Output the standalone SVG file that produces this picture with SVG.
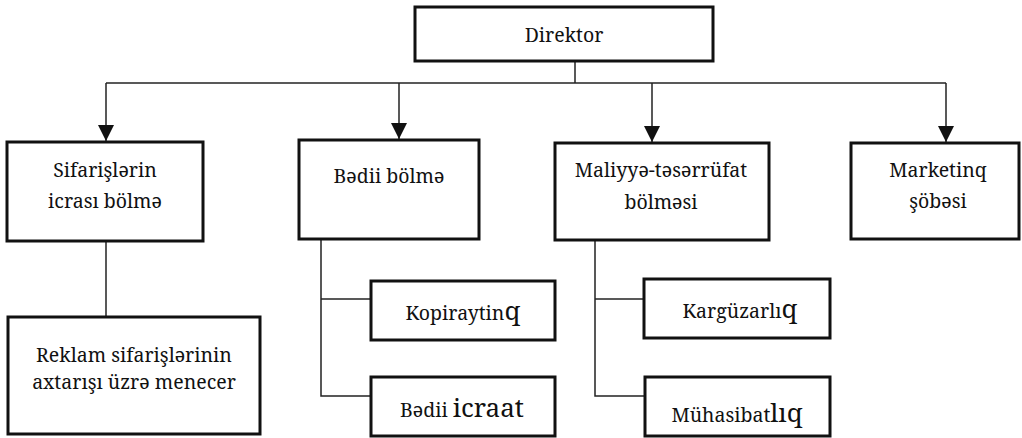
<svg xmlns="http://www.w3.org/2000/svg" width="1022" height="438" viewBox="0 0 1022 438">
  <style>
    .box { fill: #ffffff; stroke: #111111; stroke-width: 3; }
    .link { fill: none; stroke: #222222; stroke-width: 1.5; }
    .label { font-family: 'Noto Serif', 'DejaVu Serif', serif; font-size: 19.5px; fill: #111111; text-anchor: middle; }
    .big { font-size: 26px; }
  </style>
  <defs>
    <marker id="arrow" viewBox="0 0 16 16" refX="16" refY="8" markerWidth="16" markerHeight="16" markerUnits="userSpaceOnUse" orient="auto">
      <path d="M0,0 L16,8 L0,16 Z" fill="#111111"/>
    </marker>
  </defs>
  <rect width="1022" height="438" fill="#ffffff"/>

  <!-- connectors -->
  <g id="connectors">
    <path class="link" d="M575,61 V83"/>
    <path class="link" d="M106,83 H946"/>
    <path class="link" d="M106,83 V141" marker-end="url(#arrow)"/>
    <path class="link" d="M399,83 V139" marker-end="url(#arrow)"/>
    <path class="link" d="M652,83 V142" marker-end="url(#arrow)"/>
    <path class="link" d="M946,83 V142" marker-end="url(#arrow)"/>
    <path class="link" d="M106,241 V317"/>
    <path class="link" d="M321,239 V396 H371"/>
    <path class="link" d="M321,299 H371"/>
    <path class="link" d="M595,240 V396 H645"/>
    <path class="link" d="M595,299 H644"/>
  </g>

  <g id="direktor">
    <rect class="box" x="415" y="7" width="298" height="54"/>
    <text class="label" x="564" y="42">Direktor</text>
  </g>

  <g id="sifarisler">
    <rect class="box" x="7" y="142" width="196" height="99"/>
    <text class="label" x="105" y="177">Sifarişlərin</text>
    <text class="label" x="105" y="208">icrası bölmə</text>
  </g>

  <g id="bedii-bolme">
    <rect class="box" x="299" y="140" width="180" height="99"/>
    <text class="label" x="389" y="183">Bədii bölmə</text>
  </g>

  <g id="maliyye">
    <rect class="box" x="555" y="143" width="214" height="97"/>
    <text class="label" x="661" y="177">Maliyyə-təsərrüfat</text>
    <text class="label" x="661" y="209">bölməsi</text>
  </g>

  <g id="marketinq">
    <rect class="box" x="851" y="143" width="168" height="96"/>
    <text class="label" x="938" y="177">Marketinq</text>
    <text class="label" x="938" y="208">şöbəsi</text>
  </g>

  <g id="reklam">
    <rect class="box" x="8" y="317" width="252" height="117"/>
    <text class="label" x="134" y="362">Reklam sifarişlərinin</text>
    <text class="label" x="134" y="389">axtarışı üzrə menecer</text>
  </g>

  <g id="kopiraytinq">
    <rect class="box" x="371" y="281" width="184" height="59"/>
    <text class="label" x="463" y="320">Kopiraytin<tspan class="big">q</tspan></text>
  </g>

  <g id="bedii-icraat">
    <rect class="box" x="371" y="377" width="184" height="59"/>
    <text class="label" x="462" y="417">Bədii <tspan class="big">icraat</tspan></text>
  </g>

  <g id="karguzarliq">
    <rect class="box" x="644" y="279" width="186" height="59"/>
    <text class="label" x="740" y="318">Kargüzarlı<tspan class="big">q</tspan></text>
  </g>

  <g id="muhasibatliq">
    <rect class="box" x="645" y="377" width="185" height="59"/>
    <text class="label" x="737" y="422">Mühasibat<tspan class="big">lıq</tspan></text>
  </g>
</svg>
